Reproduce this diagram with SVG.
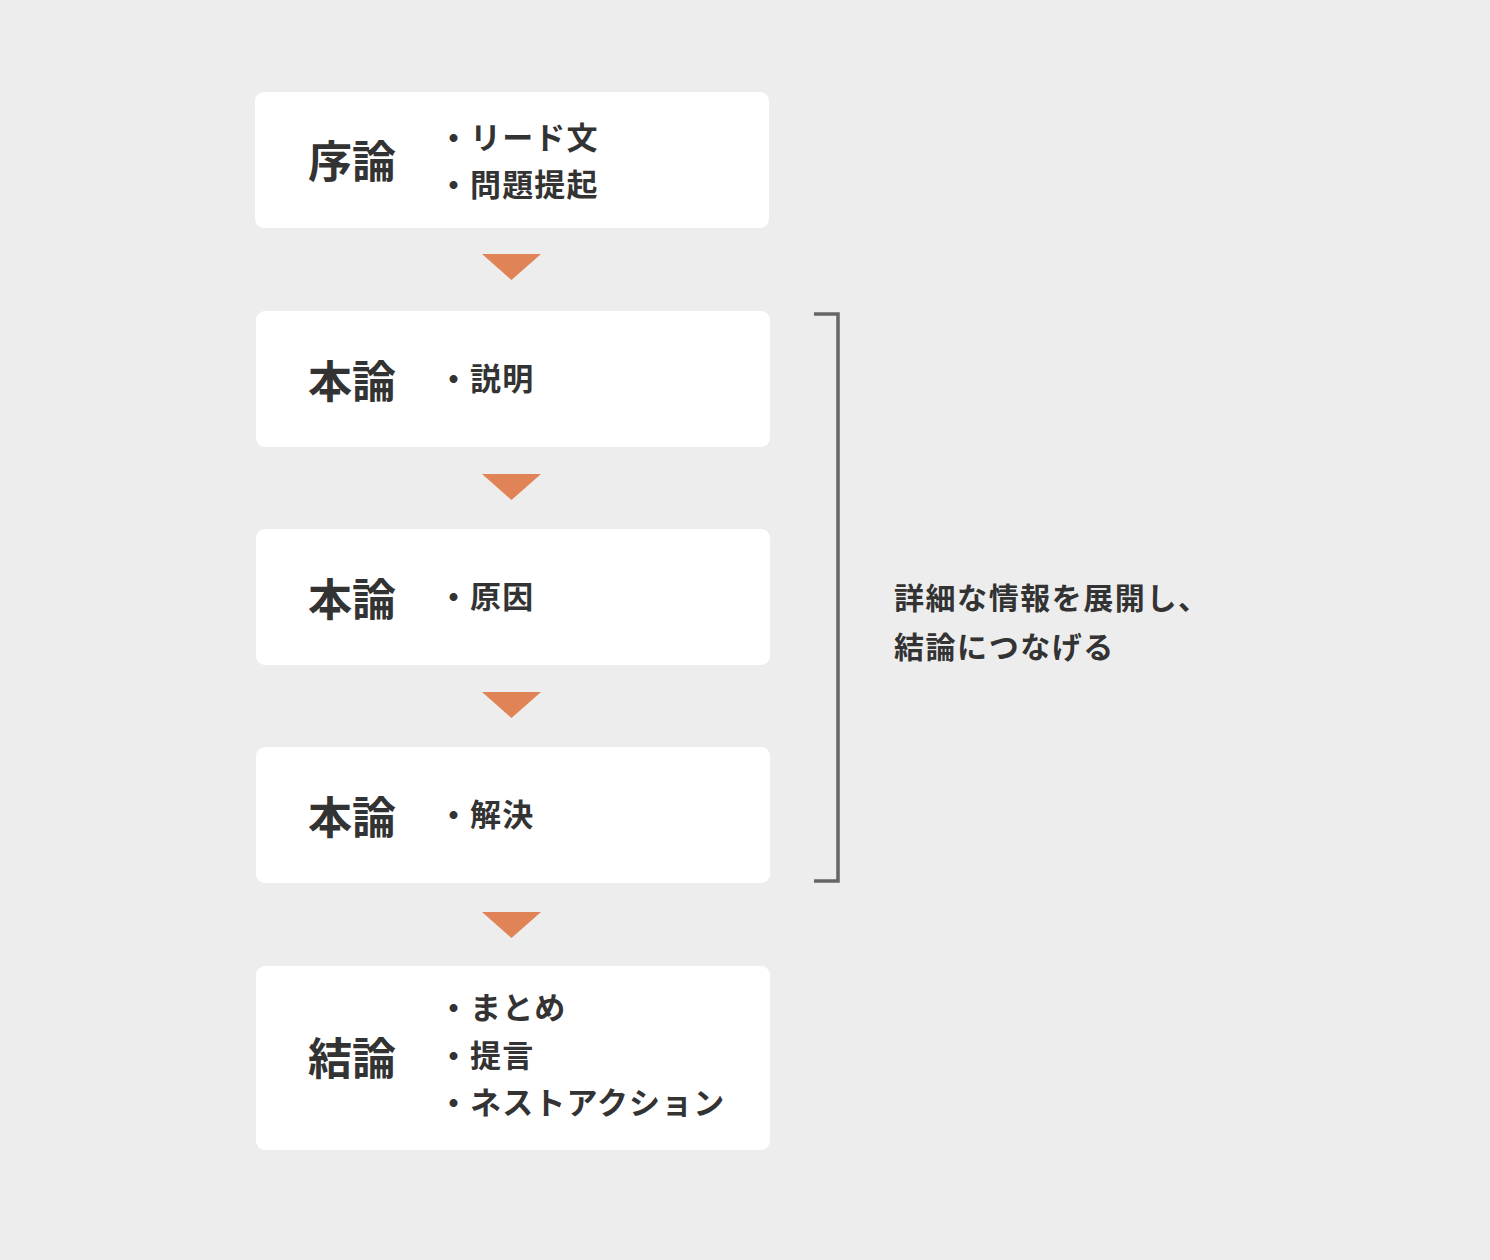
<svg xmlns="http://www.w3.org/2000/svg" width="1490" height="1260" viewBox="0 0 1490 1260">
<style>
.box{fill:#ffffff}
.ttl{font-family:"Noto Sans CJK JP","Noto Sans CJK SC",sans-serif;font-size:44px;font-weight:700;fill:#333333}
.itm{font-family:"Noto Sans CJK JP","Noto Sans CJK SC",sans-serif;font-size:31px;font-weight:700;fill:#333333;letter-spacing:1.1px}
.note{font-family:"Noto Sans CJK JP","Noto Sans CJK SC",sans-serif;font-size:30px;font-weight:700;fill:#333333;letter-spacing:1.55px}
.arr{fill:#E08457}
.br{fill:none;stroke:#666666;stroke-width:3.5}
</style>
<rect width="1490" height="1260" fill="#EDEDED"/>
<g id="node-joron">
<rect class="box" x="255" y="92" width="514" height="136" rx="9"/>
<text class="ttl" x="308" y="178">序論</text>
<text class="itm" x="438" y="149">・リード文</text>
<text class="itm" x="438" y="196">・問題提起</text>
</g>
<g id="node-honron1">
<rect class="box" x="256" y="311" width="514" height="136" rx="9"/>
<text class="ttl" x="308" y="398">本論</text>
<text class="itm" x="438" y="390">・説明</text>
</g>
<g id="node-honron2">
<rect class="box" x="256" y="529" width="514" height="136" rx="9"/>
<text class="ttl" x="308" y="616">本論</text>
<text class="itm" x="438" y="608">・原因</text>
</g>
<g id="node-honron3">
<rect class="box" x="256" y="747" width="514" height="136" rx="9"/>
<text class="ttl" x="308" y="834">本論</text>
<text class="itm" x="438" y="826">・解決</text>
</g>
<g id="node-ketsuron">
<rect class="box" x="256" y="966" width="514" height="184" rx="9"/>
<text class="ttl" x="308" y="1075">結論</text>
<text class="itm" x="438" y="1019">・まとめ</text>
<text class="itm" x="438" y="1067">・提言</text>
<text class="itm" x="438" y="1114">・ネストアクション</text>
</g>
<g id="note">
<text class="note" x="894" y="609">詳細な情報を展開し、</text>
<text class="note" x="894" y="658">結論につなげる</text>
</g>
<g id="connectors">
<polygon class="arr" points="482,254 541,254 511.5,280"/>
<polygon class="arr" points="482,474 541,474 511.5,500"/>
<polygon class="arr" points="482,692 541,692 511.5,718"/>
<polygon class="arr" points="482,912 541,912 511.5,938"/>
<polyline class="br" points="814,314 838,314 838,881 814,881"/>
</g>
</svg>
